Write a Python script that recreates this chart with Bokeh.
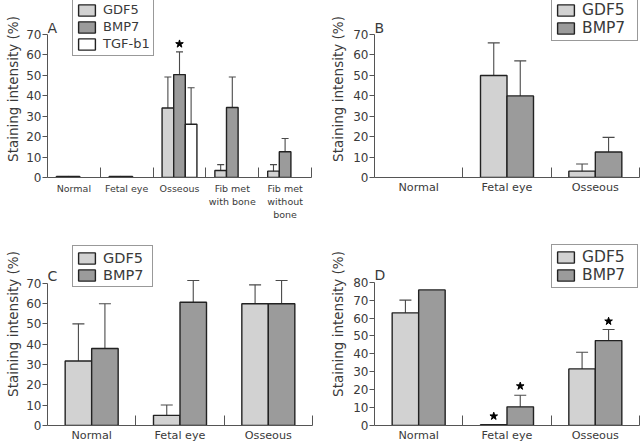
from bokeh.plotting import figure
from bokeh.models import (ColumnDataSource, FixedTicker, Whisker, TeeHead, Legend,
                          LegendItem, Label, Range1d, Title)
from bokeh.layouts import row, column
from bokeh.embed import file_html
from bokeh.resources import INLINE

FONT = "DejaVu Sans"
TEXT = "#3a3a3a"
AXIS = "#555555"
C_GDF5 = "#d2d2d2"
C_BMP7 = "#9b9b9b"
C_TGF = "#ffffff"
Y_TITLE = "Staining intensity (%)"

# ---------------- data ----------------
# Panel A
a_categories = ["Normal", "Fetal eye", "Osseous", "Fib met\nwith bone", "Fib met\nwithout\nbone"]
a_gdf5 = [0.5, 0.5, 34.0, 3.4, 3.1]
a_gdf5_lo = [None, None, 19.1, 0.0, 0.0]
a_gdf5_hi = [None, None, 49.1, 6.3, 6.3]
a_bmp7 = [0.5, 0.5, 50.3, 34.2, 12.6]
a_bmp7_lo = [None, None, 37.6, 19.1, 6.0]
a_bmp7_hi = [None, None, 61.4, 49.1, 19.1]
a_tgf = [None, None, 26.0, None, None]
a_tgf_lo = [None, None, 7.8, None, None]
a_tgf_hi = [None, None, 43.9, None, None]
a_star_cat = [3]
a_star_series = [1]
a_star_y = [65.3]
a_yticks = [0, 10, 20, 30, 40, 50, 60, 70]

# Panel B
b_categories = ["Normal", "Fetal eye", "Osseous"]
b_gdf5 = [None, 49.9, 3.1]
b_gdf5_lo = [None, 33.1, 0.0]
b_gdf5_hi = [None, 65.8, 6.6]
b_bmp7 = [None, 39.9, 12.5]
b_bmp7_lo = [None, 22.7, 5.2]
b_bmp7_hi = [None, 57.0, 19.6]
b_yticks = [0, 10, 20, 30, 40, 50, 60, 70]

# Panel C
c_categories = ["Normal", "Fetal eye", "Osseous"]
c_gdf5 = [31.7, 5.0, 59.9]
c_gdf5_lo = [12.0, 0.0, 50.0]
c_gdf5_hi = [50.0, 10.1, 69.2]
c_bmp7 = [37.9, 60.6, 59.9]
c_bmp7_lo = [15.6, 41.3, 43.3]
c_bmp7_hi = [59.9, 71.3, 71.3]
c_yticks = [0, 10, 20, 30, 40, 50, 60, 70]

# Panel D
d_categories = ["Normal", "Fetal eye", "Osseous"]
d_gdf5 = [62.9, 0.4, 31.6]
d_gdf5_lo = [55.4, None, 22.3]
d_gdf5_hi = [70.0, None, 40.9]
d_bmp7 = [75.7, 10.4, 47.4]
d_bmp7_lo = [None, 3.7, 40.6]
d_bmp7_hi = [None, 16.9, 53.6]
d_star_cat = [2, 2, 3]
d_star_series = [0, 1, 1]
d_star_y = [5.2, 22.0, 58.2]
d_yticks = [0, 10, 20, 30, 40, 50, 60, 70, 80]


def build(cats, series, bar_w, offsets, y_end, y_ticks, borders, xfont, x_line_h, x_standoff,
          cap, legend_x, legend_top_gap, legend_label_w, legend_font, letter, letter_dy,
          ytitle_standoff, ytitle_offset, stars=None):
    n = len(cats)
    W, H = 320, 222
    p = figure(width=W, height=H, x_range=Range1d(0.5, n + 0.5),
               y_range=Range1d(0, y_end), output_backend="svg", toolbar_location=None,
               min_border_left=borders[0], min_border_right=borders[1],
               min_border_top=0, min_border_bottom=borders[2])
    p.outline_line_color = None
    p.xgrid.visible = False
    p.ygrid.visible = False
    p.background_fill_color = "white"

    items = []
    for (name, vals, lo, hi, color), off in zip(series, offsets):
        xs = [i + 1 + off for i, v in enumerate(vals) if v is not None]
        tops = [v for v in vals if v is not None]
        r = p.vbar(x=xs, top=tops, bottom=0, width=bar_w, fill_color=color,
                   line_color="#222222", line_width=1.4)
        items.append(LegendItem(label=name, renderers=[r]))
        wx = [i + 1 + off for i in range(n) if lo[i] is not None]
        wl = [lo[i] for i in range(n) if lo[i] is not None]
        wu = [hi[i] for i in range(n) if lo[i] is not None]
        if wx:
            src = ColumnDataSource(dict(x=wx, lower=wl, upper=wu))
            w = Whisker(source=src, base="x", lower="lower", upper="upper",
                        line_color="#4a4a4a", line_width=1.1,
                        upper_head=TeeHead(size=cap, line_color="#4a4a4a", line_width=1.1),
                        lower_head=TeeHead(size=cap, line_color="#4a4a4a", line_width=1.1))
            p.add_layout(w)

    if stars:
        s_cat, s_ser, s_y = stars
        sx = [c + offsets[s] for c, s in zip(s_cat, s_ser)]
        p.scatter(x=sx, y=s_y, marker="star", size=8, fill_color="black", line_color="black")

    # x axis: category names at centres, separator ticks at boundaries
    xa = p.xaxis[0]
    xa.ticker = FixedTicker(ticks=list(range(1, n + 1)),
                            minor_ticks=[i + 0.5 for i in range(1, n + 1)])
    xa.major_label_overrides = {i + 1: c for i, c in enumerate(cats)}
    xa.major_tick_in = 0
    xa.major_tick_out = 0
    xa.minor_tick_in = 10
    xa.minor_tick_out = 0
    xa.axis_line_color = AXIS
    xa.minor_tick_line_color = AXIS
    xa.major_label_text_font = FONT
    xa.major_label_text_font_size = xfont
    xa.major_label_text_color = TEXT
    xa.major_label_text_line_height = x_line_h
    xa.major_label_standoff = x_standoff

    ya = p.yaxis[0]
    ya.ticker = FixedTicker(ticks=y_ticks)
    ya.bounds = (0, y_ticks[-1])
    ya.major_tick_out = 5
    ya.major_tick_in = 0
    ya.minor_tick_out = 0
    ya.minor_tick_in = 0
    ya.axis_line_color = AXIS
    ya.major_tick_line_color = AXIS
    ya.major_label_text_font = FONT
    ya.major_label_text_font_size = "12px"
    ya.major_label_text_color = TEXT
    ya.major_label_standoff = 1

    # y title as a left-side title, shifted down to centre on the drawn axis
    p.add_layout(Title(text=Y_TITLE, align="center", offset=ytitle_offset,
                       standoff=ytitle_standoff, text_font=FONT, text_font_size="13.5px",
                       text_font_style="normal", text_color=TEXT), "left")

    frame_h = H - borders[2]
    nrows = len(items)
    row_h = 17
    pad = 3
    fsize = float(legend_font.replace("px", ""))
    eff_row = max(row_h, 1.164 * fsize)
    leg_h = nrows * eff_row + 2 * pad
    legend = Legend(items=items, location=(legend_x, frame_h - leg_h - legend_top_gap),
                    label_text_font=FONT, label_text_font_size=legend_font,
                    label_text_color=TEXT, glyph_width=21, glyph_height=14,
                    label_height=row_h, label_width=legend_label_w, spacing=0,
                    padding=pad, margin=0, label_standoff=6,
                    border_line_color="#333333", border_line_width=1,
                    background_fill_color="white", background_fill_alpha=1.0)
    p.add_layout(legend)

    p.add_layout(Label(x=0.5, y=y_ticks[-1] + letter_dy, text=letter, text_font=FONT,
                       text_font_size="14px", text_color=TEXT, text_baseline="alphabetic"))
    return p


pa = build(a_categories,
           [("GDF5", a_gdf5, a_gdf5_lo, a_gdf5_hi, C_GDF5),
            ("BMP7", a_bmp7, a_bmp7_lo, a_bmp7_hi, C_BMP7),
            ("TGF-b1", a_tgf, a_tgf_lo, a_tgf_hi, C_TGF)],
           0.22, [-0.22, 0.0, 0.22], 86.53, a_yticks, (45, 9, 44), "9.5px", 1.2, 5,
           7, 25, 0, 46, "13px", "A", 2.9, 5, -29,
           stars=(a_star_cat, a_star_series, a_star_y))

pb = build(b_categories,
           [("GDF5", b_gdf5, b_gdf5_lo, b_gdf5_hi, C_GDF5),
            ("BMP7", b_bmp7, b_bmp7_lo, b_bmp7_hi, C_BMP7)],
           0.3, [-0.15, 0.15], 86.53, b_yticks, (54, 1, 44), "11.2px", 1.2, 3,
           12, 177, 0, 52, "15.5px", "B", 2.9, 10, -29)

pc = build(c_categories,
           [("GDF5", c_gdf5, c_gdf5_lo, c_gdf5_hi, C_GDF5),
            ("BMP7", c_bmp7, c_bmp7_lo, c_bmp7_hi, C_BMP7)],
           0.3, [-0.15, 0.15], 99.86, c_yticks, (45, 8, 18), "11.2px", 1.2, 3,
           12, 25, 26, 46, "14.5px", "C", 3.5, 5, -43)

pd_ = build(d_categories,
            [("GDF5", d_gdf5, d_gdf5_lo, d_gdf5_hi, C_GDF5),
             ("BMP7", d_bmp7, d_bmp7_lo, d_bmp7_hi, C_BMP7)],
            0.3, [-0.15, 0.15], 113.33, d_yticks, (54, 1, 18), "11.2px", 1.2, 3,
            12, 177, 25, 52, "15.5px", "D", 4.0, 10, -43,
            stars=(d_star_cat, d_star_series, d_star_y))

layout = column(row(pa, pb), row(pc, pd_))
open("out.html", "w").write(file_html(layout, INLINE, "Staining intensity"))
